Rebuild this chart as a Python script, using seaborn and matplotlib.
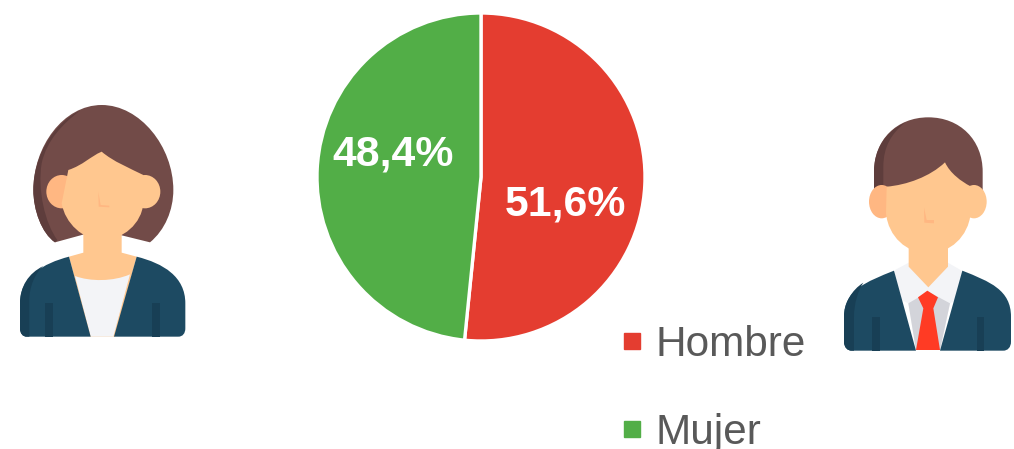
import matplotlib
matplotlib.use("Agg")
import matplotlib.pyplot as plt
import seaborn as sns
from matplotlib.lines import Line2D
from matplotlib.path import Path
from matplotlib.patches import PathPatch, Ellipse

# datos del grafico
categorias = ["Hombre", "Mujer"]
valores = [51.6, 48.4]
colores = ["#E43D30", "#52AE47"]

sns.set_theme(style="white")
plt.rcParams["font.family"] = ["Liberation Sans", "DejaVu Sans"]

W, H = 1014, 449
fig = plt.figure(figsize=(W / 100, H / 100), dpi=100, facecolor="white")

# tarta, centro en (481,177) y radio de 164 px
cx, cy, r = 481, 177, 164
ax = fig.add_axes([(cx - r) / W, (H - cy - r) / H, 2 * r / W, 2 * r / H])
palette = sns.color_palette(colores)
wedges, _, autotexts = ax.pie(
    valores, colors=palette, startangle=90, counterclock=False, radius=1,
    autopct=lambda p: f"{p:.1f}%".replace(".", ","),
    wedgeprops={"edgecolor": "white", "linewidth": 2.4},
    textprops={"color": "white", "fontsize": 30.8, "fontweight": "bold"},
)
ax.set_xlim(-1, 1)
ax.set_ylim(-1, 1)
for w in wedges:
    w.set_clip_on(False)
autotexts[0].set_position((0.515, -0.168))
autotexts[1].set_position((-0.537, 0.14))

# leyenda
handles = [Line2D([], [], linestyle="none", marker="s", markersize=12.2, color=c) for c in palette]
fig.legend(handles, categorias, loc="upper left", bbox_to_anchor=(612 / W, 1 - 325 / H),
           frameon=False, fontsize=30.4, labelcolor="#595959", labelspacing=1.14,
           handletextpad=0.08, handlelength=0.95, borderpad=0, borderaxespad=0)

# capa para los iconos, en pixeles de la imagen
ic = fig.add_axes([0, 0, 1, 1], zorder=-1)
ic.set_xlim(0, W)
ic.set_ylim(H, 0)
ic.axis("off")

PELO = "#724B48"
PELO2 = "#5E3D3C"
PIEL = "#FFC78F"
PIEL2 = "#FFB782"
AZUL = "#1D4A62"
AZUL2 = "#183F55"
BLANCO = "#F3F4F7"
GRIS = "#D3D4DA"
ROJO = "#FF3B24"


def forma(x0, y0, trazos, color, z=1):
    # trazos en coordenadas del zoom (3x), M/L/C como en svg
    verts, codes = [], []
    for t in trazos:
        pts = [(x0 + t[i] / 3, y0 + t[i + 1] / 3) for i in range(1, len(t), 2)]
        verts += pts
        if t[0] == "M":
            codes.append(Path.MOVETO)
        elif t[0] == "L":
            codes.append(Path.LINETO)
        else:
            codes += [Path.CURVE4] * 3
    ic.add_patch(PathPatch(Path(verts, codes), facecolor=color, edgecolor="none", zorder=z))


def elipse(x0, y0, x, y, w, h, color, z=1):
    ic.add_patch(Ellipse((x0 + x / 3, y0 + y / 3), w / 3, h / 3, facecolor=color, edgecolor="none", zorder=z))


# mujer
x0, y0 = 0, 90
forma(x0, y0, [("M", 305, 45), ("C", 190, 45, 100, 170, 100, 300), ("C", 100, 360, 125, 430, 165, 457),
               ("L", 300, 420), ("L", 450, 457), ("C", 495, 420, 520, 360, 520, 300),
               ("C", 520, 170, 420, 45, 305, 45)], PELO)
forma(x0, y0, [("M", 240, 62), ("C", 160, 100, 100, 200, 100, 300), ("C", 100, 360, 125, 430, 165, 457),
               ("L", 172, 450), ("C", 135, 400, 112, 300, 125, 220), ("C", 140, 150, 190, 100, 240, 62)], PELO2, 1.1)
forma(x0, y0, [("M", 250, 420), ("L", 365, 420), ("L", 365, 488), ("L", 410, 500), ("L", 345, 740),
               ("L", 270, 740), ("L", 207, 500), ("L", 250, 488)], PIEL, 2)
forma(x0, y0, [("M", 225, 558), ("C", 270, 575, 340, 575, 390, 553), ("L", 340, 740), ("L", 272, 740)], BLANCO, 3)
forma(x0, y0, [("M", 207, 500), ("L", 272, 740), ("L", 80, 740), ("C", 68, 740, 60, 730, 60, 715),
               ("L", 60, 640), ("C", 60, 560, 130, 520, 207, 500)], AZUL, 3)
forma(x0, y0, [("M", 410, 500), ("L", 342, 740), ("L", 535, 740), ("C", 548, 740, 556, 730, 556, 715),
               ("L", 556, 640), ("C", 556, 560, 490, 520, 410, 500)], AZUL, 3)
forma(x0, y0, [("M", 135, 640), ("L", 160, 640), ("L", 160, 740), ("L", 135, 740)], AZUL2, 4)
forma(x0, y0, [("M", 457, 640), ("L", 480, 640), ("L", 480, 740), ("L", 457, 740)], AZUL2, 4)
forma(x0, y0, [("M", 130, 528), ("C", 85, 550, 60, 590, 60, 640), ("L", 60, 715), ("C", 60, 730, 68, 740, 80, 740),
               ("L", 88, 740), ("L", 88, 630), ("C", 88, 590, 105, 550, 130, 528)], AZUL2, 3.5)
elipse(x0, y0, 185, 305, 92, 100, PIEL2, 2)
elipse(x0, y0, 435, 305, 92, 100, PIEL, 2)
forma(x0, y0, [("M", 305, 185), ("C", 270, 200, 250, 225, 205, 240), ("L", 185, 340),
               ("C", 195, 400, 250, 450, 305, 450), ("C", 370, 450, 425, 400, 430, 340),
               ("L", 430, 255), ("C", 390, 235, 340, 215, 305, 185)], PIEL, 2.5)
forma(x0, y0, [("M", 295, 305), ("L", 302, 345), ("L", 328, 347), ("L", 328, 352), ("L", 296, 350)], PIEL2, 3)

# hombre
x0, y0 = 830, 100
forma(x0, y0, [("M", 295, 52), ("C", 200, 52, 132, 120, 132, 215), ("L", 132, 275), ("L", 458, 275),
               ("L", 458, 215), ("C", 458, 120, 390, 52, 295, 52)], PELO)
forma(x0, y0, [("M", 225, 68), ("C", 165, 95, 132, 150, 132, 215), ("L", 132, 275), ("L", 160, 265),
               ("L", 160, 200), ("C", 160, 140, 185, 100, 225, 68)], PELO2, 1.1)
elipse(x0, y0, 155, 305, 76, 100, PIEL2, 2)
elipse(x0, y0, 432, 305, 76, 100, PIEL, 2)
forma(x0, y0, [("M", 195, 510), ("L", 238, 487), ("L", 352, 487), ("L", 395, 512), ("L", 395, 590),
               ("L", 360, 610), ("L", 330, 750), ("L", 258, 750), ("L", 235, 610), ("L", 195, 590)], BLANCO, 2)
forma(x0, y0, [("M", 235, 610), ("L", 295, 575), ("L", 360, 610), ("L", 330, 750), ("L", 258, 750)], GRIS, 2.2)
forma(x0, y0, [("M", 236, 440), ("L", 354, 440), ("L", 354, 500), ("L", 295, 562), ("L", 236, 500)], PIEL, 2.4)
forma(x0, y0, [("M", 264, 592), ("L", 292, 572), ("L", 324, 592), ("L", 310, 625), ("L", 330, 750),
               ("L", 258, 750), ("L", 280, 625)], ROJO, 4)
forma(x0, y0, [("M", 192, 512), ("L", 258, 752), ("L", 65, 752), ("C", 52, 752, 42, 742, 42, 725),
               ("L", 42, 650), ("C", 42, 570, 110, 545, 192, 512)], AZUL, 3)
forma(x0, y0, [("M", 397, 512), ("L", 330, 752), ("L", 520, 752), ("C", 533, 752, 543, 742, 543, 725),
               ("L", 543, 650), ("C", 543, 570, 480, 545, 397, 512)], AZUL, 3)
forma(x0, y0, [("M", 125, 650), ("L", 150, 650), ("L", 150, 752), ("L", 125, 752)], AZUL2, 4)
forma(x0, y0, [("M", 440, 650), ("L", 463, 650), ("L", 463, 752), ("L", 440, 752)], AZUL2, 4)
forma(x0, y0, [("M", 100, 548), ("C", 65, 570, 42, 610, 42, 650), ("L", 42, 725), ("C", 42, 742, 52, 752, 65, 752),
               ("L", 72, 752), ("L", 72, 650), ("C", 72, 610, 85, 570, 100, 548)], AZUL2, 3.5)
forma(x0, y0, [("M", 170, 260), ("C", 230, 255, 300, 230, 345, 187), ("C", 360, 220, 395, 245, 420, 258),
               ("L", 422, 340), ("C", 415, 410, 360, 460, 295, 460), ("C", 230, 460, 175, 410, 168, 340)], PIEL, 2.5)
forma(x0, y0, [("M", 282, 322), ("L", 290, 360), ("L", 312, 360), ("L", 312, 370), ("L", 283, 368)], PIEL2, 3)

fig.savefig("out.png", dpi=100, facecolor="white")
